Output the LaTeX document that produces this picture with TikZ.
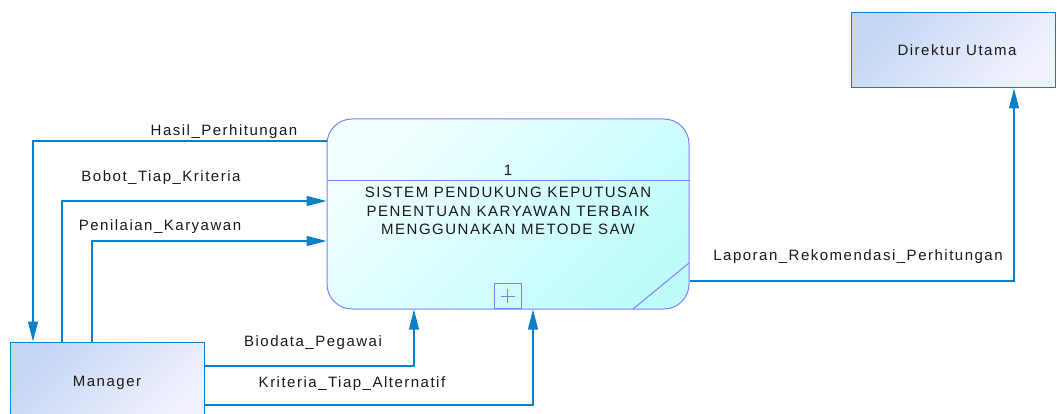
\documentclass[tikz,border=0pt]{standalone}
\usepackage{fontspec}
\setmainfont{Liberation Sans}
\newfontfamily\lblfont[LetterSpace=10]{Liberation Sans}
\usetikzlibrary{arrows.meta}
\definecolor{flowblue}{RGB}{10,128,200}
\definecolor{procedge}{RGB}{128,128,255}
\definecolor{proclight}{RGB}{242,255,255}
\definecolor{procdark}{RGB}{190,252,252}
\definecolor{entlight}{RGB}{242,242,255}
\definecolor{entdark}{RGB}{196,214,244}
\tikzset{
  txt/.style={font=\lblfont\fontsize{15}{18.5}\selectfont, text=black!90},
  entity/.style={draw=flowblue, line width=1pt, rectangle, left color=entdark, right color=entlight, shading angle=45, txt},
  process/.style={draw=procedge, line width=1pt, rectangle, rounded corners=25pt, left color=proclight, right color=procdark, shading angle=45},
  flow/.style={draw=flowblue, line width=1.2pt, -{Triangle[length=20pt,width=10pt]}},
  flowlabel/.style={txt, inner sep=0pt}
}
\begin{document}
\begin{tikzpicture}[x=1pt,y=-1pt]
\useasboundingbox (0,0) rectangle (1057,414);
\clip (0,0) rectangle (1057,414);

% process
\node[process, minimum width=362pt, minimum height=190pt, inner sep=0pt] (proc) at (508,214) {};
\draw[procedge, line width=1pt] (proc.west |- 0,181) -- (proc.east |- 0,181);
\node[txt, inner sep=0pt] (pnum) at (508,170) {1};
\node[txt, align=center, inner sep=0pt] (pname) at (508,211)
  {SISTEM PENDUKUNG KEPUTUSAN\\PENENTUAN KARYAWAN TERBAIK\\MENGGUNAKAN METODE SAW};
\node[draw=procedge, line width=1pt, minimum width=27pt, minimum height=25pt, inner sep=0pt, anchor=south] (pbox) at (507.5,309) {};
\draw[procedge, line width=0.8pt] ([xshift=-7pt]pbox.center) -- ([xshift=7pt]pbox.center)
  ([yshift=-7pt]pbox.center) -- ([yshift=7pt]pbox.center);
\draw[procedge, line width=1pt] (633,309) -- (689,263);

% external entities
\node[entity, minimum width=194pt, minimum height=82pt, inner sep=0pt] (mgr) at (107,383) {Manager};
\node[entity, minimum width=204pt, minimum height=75pt, inner sep=0pt] (dir) at (953,50.5) {\hspace*{8pt}Direktur Utama};

% data flows
\draw[flow] (proc.west |- 0,141) -| (mgr.north -| 33,0);
\draw[flow] (mgr.north -| 62,0) |- (proc.west |- 0,201);
\draw[flow] (mgr.north -| 92,0) |- (proc.west |- 0,241);
\draw[flow] (mgr.east |- 0,366) -| (proc.south -| 414,0);
\draw[flow] (mgr.east |- 0,405) -| (proc.south -| 533,0);
\draw[flow] (proc.east |- 0,281) -| (dir.south -| 1014,0);

% flow labels
\node[flowlabel] (lhasil) at (224,132) {Hasil\_Perhitungan};
\node[flowlabel] (lbobot) at (161,178) {Bobot\_Tiap\_Kriteria};
\node[flowlabel] (lnilai) at (160,227) {Penilaian\_Karyawan};
\node[flowlabel] (lbio) at (313,343) {Biodata\_Pegawai};
\node[flowlabel] (lkrit) at (352,384) {Kriteria\_Tiap\_Alternatif};
\node[flowlabel] (llap) at (858,257) {Laporan\_Rekomendasi\_Perhitungan};
\end{tikzpicture}
\end{document}
